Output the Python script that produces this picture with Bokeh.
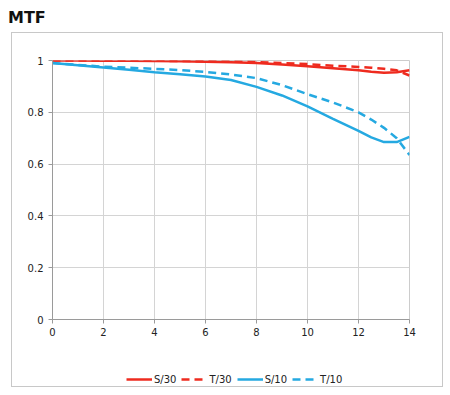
from bokeh.plotting import figure
from bokeh.models import Range1d, Legend, LegendItem, FixedTicker, Div, ColumnDataSource
from bokeh.layouts import column
from bokeh.embed import file_html
from bokeh.resources import INLINE

x = [0, 1, 2, 3, 4, 5, 6, 7, 8, 9, 10, 11, 12, 12.5, 13, 13.5, 14]
s30 = [1.0, 1.0, 0.999, 0.999, 0.998, 0.997, 0.995, 0.993, 0.99, 0.985, 0.978, 0.97, 0.962, 0.957, 0.953, 0.955, 0.962]
t30 = [1.0, 1.0, 1.0, 0.999, 0.999, 0.998, 0.997, 0.996, 0.994, 0.99, 0.986, 0.98, 0.975, 0.972, 0.968, 0.962, 0.942]
s10 = [0.99, 0.982, 0.973, 0.964, 0.955, 0.947, 0.938, 0.925, 0.898, 0.865, 0.823, 0.775, 0.728, 0.703, 0.685, 0.685, 0.705]
t10 = [0.99, 0.983, 0.976, 0.972, 0.968, 0.963, 0.956, 0.946, 0.932, 0.905, 0.87, 0.838, 0.80, 0.772, 0.74, 0.70, 0.635]
x_ticks = [0, 2, 4, 6, 8, 10, 12, 14]
y_ticks = [0, 0.2, 0.4, 0.6, 0.8, 1]
y_labels = {0: "0", 0.2: "0.2", 0.4: "0.4", 0.6: "0.6", 0.8: "0.8", 1: "1"}
series_names = ["S/30", "T/30", "S/10", "T/10"]

RED = "#ee2b1f"
BLUE = "#25a9e1"
colors = [RED, RED, BLUE, BLUE]
dashes = ["solid", "8 5", "solid", "8 5"]
series = [s30, t30, s10, t10]

title = Div(text="<b>MTF</b>", width=440, height=33, margin=(0, 0, 0, 0),
            styles={"font-family": "DejaVu Sans", "font-size": "16px", "color": "#111",
                    "padding-left": "8px", "padding-top": "7px", "box-sizing": "border-box"})

p = figure(width=430, height=306, output_backend="svg", toolbar_location=None,
           x_range=Range1d(0, 14), y_range=Range1d(0, 1),
           min_border_left=40, min_border_right=33, min_border_top=27, min_border_bottom=20,
           margin=(0, 0, 0, 0))

p.outline_line_color = "#cccccc"
p.grid.grid_line_color = "#d4d4d4"
p.grid.grid_line_width = 1
p.xaxis.ticker = FixedTicker(ticks=x_ticks)
p.yaxis.ticker = FixedTicker(ticks=y_ticks)
p.yaxis.major_label_overrides = y_labels
for ax in (p.xaxis, p.yaxis):
    ax.axis_line_color = "#9a9a9a"
    ax.major_tick_line_color = "#9a9a9a"
    ax.major_tick_out = 4
    ax.major_tick_in = 0
    ax.minor_tick_line_color = None
    ax.major_label_text_font = "DejaVu Sans"
    ax.major_label_text_font_size = "10px"
    ax.major_label_text_color = "#222222"
p.yaxis.major_label_standoff = 5
p.xaxis.major_label_standoff = 4

for ys, c, d in zip(series, colors, dashes):
    p.line(x, ys, line_color=c, line_width=2.5, line_dash=d)

# legend lives in its own small figure below the chart (its lines sit outside the visible range)
lf = figure(width=430, height=47, output_backend="svg", toolbar_location=None,
            x_range=Range1d(0, 1), y_range=Range1d(0, 1),
            x_axis_type=None, y_axis_type=None,
            min_border_left=0, min_border_right=0, min_border_top=0, min_border_bottom=0,
            margin=(0, 0, 0, 0))
lf.grid.visible = False
lf.outline_line_color = None
items = []
for n, c, d, ys in zip(series_names, colors, dashes, series):
    r = lf.line(x="x", y="y", source=ColumnDataSource(data=dict(x=[-x[-1], -x[-2]], y=[-ys[0], -ys[0]])),
                line_color=c, line_width=2.5, line_dash=d)
    items.append(LegendItem(label=n, renderers=[r]))
legend = Legend(items=items, orientation="horizontal", location=(74, 1),
                border_line_color=None, background_fill_alpha=0,
                glyph_width=26, glyph_height=12, label_standoff=2, spacing=5,
                label_text_font="DejaVu Sans", label_text_font_size="10px",
                label_text_color="#222222", padding=0, margin=0)
lf.add_layout(legend)

box = column(p, lf, spacing=0, margin=(0, 0, 0, 12),
             styles={"box-shadow": "0 0 0 1px #c8c8c8"})
layout = column(title, box, spacing=0)
open("out.html", "w").write(file_html(layout, INLINE))
